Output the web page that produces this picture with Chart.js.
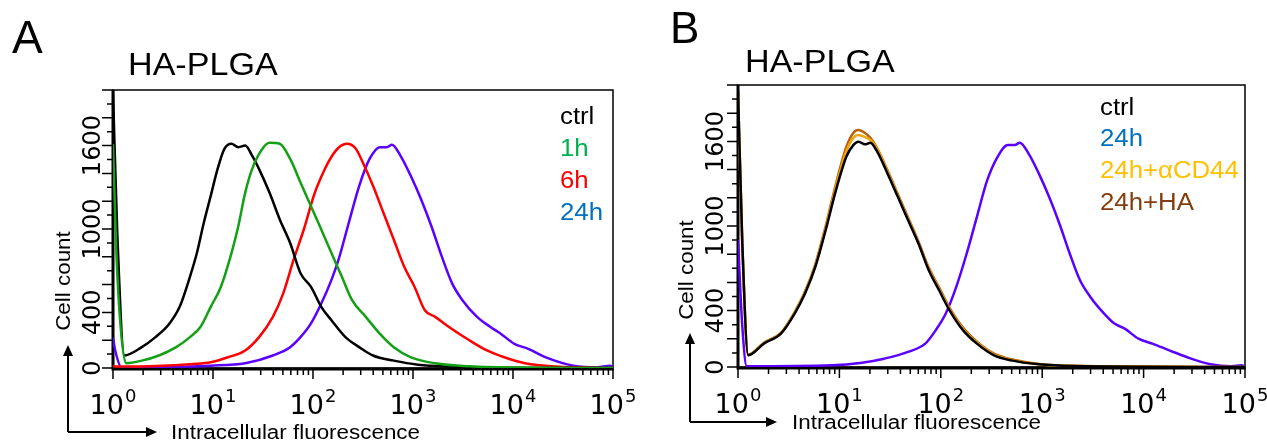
<!DOCTYPE html>
<html>
<head>
<meta charset="utf-8">
<script src="https://cdn.jsdelivr.net/npm/chart.js@4"></script>
<style>
  body { margin: 0; background: #fff; }
  #wrap { position: relative; width: 1267px; height: 441px; overflow: hidden; }
  canvas { position: absolute; top: 0; }
</style>
</head>
<body>
<div id="wrap">
  <canvas id="panelA" width="680" height="441" style="left:0"></canvas>
  <canvas id="panelB" width="634" height="441" style="left:633px"></canvas>
</div>
<script>
// ---- axis setup ----
const xDecades = [1, 10, 100, 1000, 10000, 100000];
const xExponents = ['0', '1', '2', '3', '4', '5'];
const yMax = 2000;
const yLabels = [0, 400, 1000, 1600];

// ---- panel A: HA-PLGA uptake over time ----
const ctrlA_x = [1, 1.1, 1.3, 1.94, 2.66, 3.66, 4.64, 5.89, 6.9, 8.09, 9.49, 11.1, 13.0, 15.3, 17.9, 21.0, 24.6, 28.9, 36.7, 46.5, 59.1, 75.0, 95.2, 121, 153, 211, 290, 398, 642, 1119, 2478, 8170, 100000];
const ctrlA_y = [1990, 1000, 90, 150, 222, 319, 440, 658, 827, 1045, 1238, 1431, 1577, 1613, 1589, 1600, 1528, 1431, 1262, 1069, 899, 682, 585, 440, 343, 222, 150, 90, 53, 24, 10, 2, 0];

const h1A_x = [1, 1.1, 1.35, 1.94, 2.88, 4.28, 5.89, 7.48, 9.49, 12.0, 15.3, 17.9, 21.0, 24.6, 31.2, 36.7, 46.5, 59.1, 75.0, 95.2, 121, 153, 194, 246, 337, 465, 642, 955, 1660, 3660, 18000, 100000];
const h1A_y = [1610, 700, 35, 53, 90, 150, 222, 295, 440, 585, 827, 1020, 1262, 1431, 1577, 1620, 1613, 1504, 1335, 1165, 996, 827, 658, 488, 368, 247, 150, 77, 34, 12, 2, 0];

const h6A_x = [1, 1.3, 6.38, 9.49, 14.1, 21.0, 28.9, 39.7, 50.4, 64.0, 81.2, 103, 131, 153, 180, 219, 268, 314, 398, 506, 642, 815, 1035, 1313, 1667, 2290, 3690, 5490, 8170, 13200, 26900, 100000];
const h6A_y = [12, 10, 29, 41, 77, 126, 222, 368, 537, 779, 1000, 1250, 1430, 1520, 1585, 1613, 1577, 1480, 1311, 1117, 924, 730, 585, 416, 368, 295, 198, 126, 77, 34, 10, 0];

const h24A_x = [1, 1.05, 1.22, 9.49, 21.0, 39.7, 59.1, 75.0, 95.2, 121, 153, 180, 228, 290, 368, 466, 546, 616, 748, 949, 1204, 1528, 1939, 2460, 3120, 4370, 5950, 7540, 10300, 14200, 21300, 40200, 70000, 93000, 100000];
const h24A_y = [220, 130, 5, 17, 34, 90, 150, 222, 319, 464, 634, 779, 1045, 1311, 1504, 1589, 1589, 1606, 1528, 1383, 1214, 1020, 803, 609, 488, 368, 295, 247, 174, 138, 77, 17, 5, 17, 10];

// ---- panel B: blocking with anti-CD44 / free HA ----
const ctrlB_x = [1, 1.1, 1.26, 1.80, 2.65, 3.62, 4.58, 5.79, 7.32, 9.25, 11.7, 13.7, 15.4, 17.9, 20.2, 23.6, 29.8, 37.7, 47.6, 60.2, 76.1, 96.2, 122, 166, 227, 335, 495, 925, 2020, 100000];
const ctrlB_y = [1965, 900, 83, 166, 237, 379, 521, 710, 970, 1254, 1491, 1574, 1598, 1579, 1591, 1527, 1373, 1207, 1041, 876, 686, 544, 402, 260, 166, 83, 47, 19, 7, 0];
const cd44B_y = [1950, 900, 85, 170, 240, 385, 530, 720, 985, 1280, 1530, 1625, 1645, 1630, 1610, 1545, 1385, 1215, 1050, 880, 695, 555, 410, 268, 172, 88, 50, 20, 7, 0];
const haB_y = [1940, 900, 88, 172, 242, 390, 535, 730, 1000, 1300, 1560, 1660, 1680, 1660, 1625, 1550, 1395, 1225, 1060, 890, 705, 565, 420, 278, 180, 95, 55, 22, 8, 0];

const h24B_x = [1, 1.1, 1.22, 8.55, 16.0, 27.6, 47.6, 70.3, 88.9, 112, 142, 180, 227, 287, 363, 458, 536, 602, 732, 925, 1169, 1477, 1868, 2360, 2985, 4080, 5150, 6510, 8900, 12200, 17900, 26500, 45800, 73200, 92500, 100000];
const h24B_y = [900, 300, 5, 12, 28, 59, 107, 166, 260, 379, 568, 805, 1065, 1325, 1491, 1574, 1574, 1591, 1515, 1373, 1207, 1018, 805, 615, 497, 379, 308, 272, 201, 166, 118, 71, 19, 5, 12, 5];

function pts(xs, ys) {
  return xs.map((x, i) => ({ x: x, y: ys[i] }));
}

const ARIAL = '"Liberation Sans", Arial, sans-serif';
const VERD = '"DejaVu Sans", Verdana, sans-serif';
const STRETCH = 1.12;

function wideText(ctx, text, x, y, size, color, sx) {
  ctx.save();
  ctx.translate(x, y);
  ctx.scale(sx, 1);
  ctx.font = size + 'px ' + ARIAL;
  ctx.fillStyle = color;
  ctx.textAlign = 'left';
  ctx.textBaseline = 'alphabetic';
  ctx.fillText(text, 0, 0);
  ctx.restore();
}

function makePlugin(p) {
  return {
    id: 'flowAxes' + p.letter,
    beforeDatasetsDraw(chart) {
      const ctx = chart.ctx, a = chart.chartArea;
      ctx.save();
      ctx.strokeStyle = '#000';
      ctx.lineWidth = 1.5;
      ctx.strokeRect(a.left, a.top, a.right - a.left, a.bottom - a.top);
      ctx.lineWidth = 3;
      ctx.beginPath();
      ctx.moveTo(a.left, a.top);
      ctx.lineTo(a.left, a.bottom + 1);
      ctx.lineTo(a.right + 0.75, a.bottom + 1);
      ctx.stroke();
      ctx.restore();
    },
    afterDraw(chart) {
      const ctx = chart.ctx, a = chart.chartArea;
      const xs = chart.scales.x, ys = chart.scales.y;
      ctx.save();
      ctx.strokeStyle = '#000';
      ctx.fillStyle = '#000';
      ctx.lineWidth = 1.5;

      // y ticks every 100, longer every 200
      ctx.beginPath();
      for (let v = 0; v <= yMax; v += 100) {
        const py = ys.getPixelForValue(v);
        const len = v % 200 === 0 ? 11 : 6;
        ctx.moveTo(a.left - len, py);
        ctx.lineTo(a.left, py);
      }
      ctx.stroke();

      // y labels, rotated
      ctx.font = '24px ' + VERD;
      ctx.textAlign = 'center';
      ctx.textBaseline = 'alphabetic';
      yLabels.forEach(v => {
        ctx.save();
        ctx.translate(a.left - p.yLabelGap, ys.getPixelForValue(v));
        ctx.rotate(-Math.PI / 2);
        ctx.fillText(String(v), 0, 0);
        ctx.restore();
      });

      // x ticks (log)
      ctx.beginPath();
      xDecades.forEach((d, i) => {
        const px = xs.getPixelForValue(d);
        ctx.moveTo(px, a.bottom + 1);
        ctx.lineTo(px, a.bottom + 11);
        if (i < xDecades.length - 1) {
          for (let m = 2; m <= 9; m++) {
            const q = xs.getPixelForValue(d * m);
            ctx.moveTo(q, a.bottom + 1);
            ctx.lineTo(q, a.bottom + 7);
          }
        }
      });
      ctx.stroke();

      // x labels 10^n
      ctx.textAlign = 'left';
      xDecades.forEach((d, i) => {
        const px = xs.getPixelForValue(d);
        ctx.font = '27px ' + VERD;
        const w1 = ctx.measureText('10').width;
        ctx.font = '18px ' + VERD;
        const w2 = ctx.measureText(xExponents[i]).width;
        const x0 = px - (w1 + 1 + w2) / 2;
        ctx.font = '27px ' + VERD;
        ctx.fillText('10', x0, a.bottom + 46);
        ctx.font = '18px ' + VERD;
        ctx.fillText(xExponents[i], x0 + w1 + 1, a.bottom + 34);
      });

      // panel letter and title
      ctx.font = p.letterSize + 'px ' + ARIAL;
      ctx.fillText(p.letter, p.letterX, p.letterY);
      wideText(ctx, 'HA-PLGA', p.titleX, p.titleY, 31, '#000', 1.1);

      // legend text
      p.legend.forEach(item => {
        wideText(ctx, item.text, p.legendX, item.y, 23, item.color, STRETCH);
      });

      // y axis title
      ctx.save();
      ctx.translate(p.cellX, p.cellY);
      ctx.rotate(-Math.PI / 2);
      ctx.scale(STRETCH, 1);
      ctx.font = '20px ' + ARIAL;
      ctx.textAlign = 'center';
      ctx.fillText('Cell count', 0, 0);
      ctx.restore();

      // arrows
      ctx.lineWidth = 2;
      ctx.beginPath();
      ctx.moveTo(p.arrowX, p.arrowY);
      ctx.lineTo(p.arrowX, p.arrowTop + 10);
      ctx.moveTo(p.arrowX, p.arrowY);
      ctx.lineTo(p.arrowRight - 10, p.arrowY);
      ctx.stroke();
      ctx.beginPath();
      ctx.moveTo(p.arrowX, p.arrowTop);
      ctx.lineTo(p.arrowX - 5, p.arrowTop + 11);
      ctx.lineTo(p.arrowX + 5, p.arrowTop + 11);
      ctx.closePath();
      ctx.moveTo(p.arrowRight, p.arrowY);
      ctx.lineTo(p.arrowRight - 11, p.arrowY - 5);
      ctx.lineTo(p.arrowRight - 11, p.arrowY + 5);
      ctx.closePath();
      ctx.fill();

      wideText(ctx, 'Intracellular fluorescence', p.xTitleX, p.xTitleY, 20, '#000', STRETCH);
      ctx.restore();
    }
  };
}

function makePanel(id, datasets, p) {
  return new Chart(document.getElementById(id), {
    type: 'line',
    data: { datasets: datasets },
    options: {
      responsive: false,
      animation: false,
      devicePixelRatio: 1,
      layout: { padding: p.padding },
      elements: {
        point: { radius: 0 },
        line: { borderWidth: 2.5, cubicInterpolationMode: 'monotone', fill: false }
      },
      scales: {
        x: { type: 'logarithmic', min: 1, max: 100000, display: false },
        y: { type: 'linear', min: 0, max: yMax, display: false }
      },
      plugins: { legend: { display: false }, tooltip: { enabled: false } }
    },
    plugins: [makePlugin(p)]
  });
}

makePanel('panelA', [
  { label: '1h', data: pts(h1A_x, h1A_y), borderColor: '#14a014' },
  { label: 'ctrl', data: pts(ctrlA_x, ctrlA_y), borderColor: '#000000' },
  { label: '6h', data: pts(h6A_x, h6A_y), borderColor: '#ff0000' },
  { label: '24h', data: pts(h24A_x, h24A_y), borderColor: '#5a00ff' }
], {
  letter: 'A', letterX: 12, letterY: 53, letterSize: 46,
  titleX: 128, titleY: 75,
  legendX: 560,
  legend: [
    { text: 'ctrl', color: '#000000', y: 124 },
    { text: '1h', color: '#00b050', y: 156 },
    { text: '6h', color: '#ff0000', y: 188 },
    { text: '24h', color: '#0070c0', y: 220 }
  ],
  cellX: 70, cellY: 281,
  arrowX: 68, arrowY: 432, arrowTop: 345, arrowRight: 157,
  xTitleX: 171, xTitleY: 439,
  yLabelGap: 13,
  padding: { left: 113, top: 90, right: 67, bottom: 73 }
});

makePanel('panelB', [
  { label: 'ctrl', data: pts(ctrlB_x, ctrlB_y), borderColor: '#000000' },
  { label: '24h+αCD44', data: pts(ctrlB_x, cd44B_y), borderColor: '#f2a50c' },
  { label: '24h+HA', data: pts(ctrlB_x, haB_y), borderColor: '#b8610f' },
  { label: '24h', data: pts(h24B_x, h24B_y), borderColor: '#5a00ff' }
], {
  letter: 'B', letterX: 37, letterY: 43, letterSize: 44,
  titleX: 112, titleY: 72,
  legendX: 467,
  legend: [
    { text: 'ctrl', color: '#000000', y: 115 },
    { text: '24h', color: '#0070c0', y: 146 },
    { text: '24h+αCD44', color: '#ffc000', y: 178 },
    { text: '24h+HA', color: '#843c0c', y: 210 }
  ],
  cellX: 60, cellY: 270,
  arrowX: 57, arrowY: 422, arrowTop: 333, arrowRight: 144,
  xTitleX: 159, xTitleY: 429,
  yLabelGap: 15,
  padding: { left: 105, top: 85, right: 22, bottom: 74 }
});
</script>
</body>
</html>
